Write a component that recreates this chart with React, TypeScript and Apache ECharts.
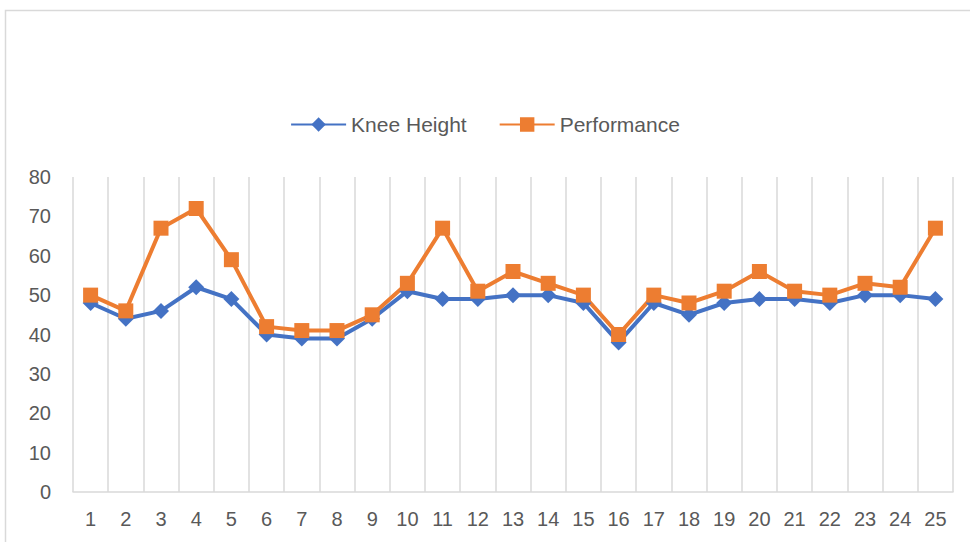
import React, { useEffect, useRef } from "react";
import * as echarts from "echarts";

const categories = ["1","2","3","4","5","6","7","8","9","10","11","12","13","14","15","16","17","18","19","20","21","22","23","24","25"];
const kneeHeight = [48,44,46,52,49,40,39,39,44,51,49,49,50,50,48,38,48,45,48,49,49,48,50,50,49];
const performance = [50,46,67,72,59,42,41,41,45,53,67,51,56,53,50,40,50,48,51,56,51,50,53,52,67];
const seriesNames = ["Knee Height", "Performance"];

export default function App() {
  const ref = useRef<HTMLDivElement>(null);
  useEffect(() => {
    document.body.style.margin = "0";
    const chart = echarts.init(ref.current!, null, { renderer: "svg" });
    const font = "'Liberation Sans', Arial, sans-serif";
    chart.setOption({
      animation: false,
      backgroundColor: "#ffffff",
      textStyle: { fontFamily: font },
      graphic: [
        {
          type: "rect",
          shape: { x: 5.5, y: 10.5, width: 1000, height: 600 },
          style: { fill: "none", stroke: "#d9d9d9", lineWidth: 1.5 },
          silent: true,
        },
      ],
      legend: {
        top: 109,
        left: "center",
        itemWidth: 55,
        itemHeight: 18,
        itemGap: 32,
        textStyle: { color: "#595959", fontSize: 21, fontFamily: font },
        data: seriesNames,
      },
      grid: { left: 73, right: 17, top: 177, bottom: 50, containLabel: false },
      xAxis: {
        type: "category",
        data: categories,
        boundaryGap: true,
        axisLine: { show: true, lineStyle: { color: "#d9d9d9", width: 1.5 } },
        axisTick: { show: false },
        splitLine: { show: true, lineStyle: { color: "#d9d9d9", width: 1.5 } },
        axisLabel: { color: "#595959", fontSize: 20, margin: 17, fontFamily: font, interval: 0 },
      },
      yAxis: {
        type: "value",
        min: 0,
        max: 80,
        interval: 10,
        axisLine: { show: false },
        axisTick: { show: false },
        splitLine: { show: false },
        axisLabel: { color: "#595959", fontSize: 20, margin: 22, fontFamily: font },
      },
      series: [
        {
          name: seriesNames[0],
          type: "line",
          data: kneeHeight,
          symbol: "diamond",
          symbolSize: 16,
          showAllSymbol: true,
          itemStyle: { color: "#4472C4" },
          lineStyle: { color: "#4472C4", width: 4 },
        },
        {
          name: seriesNames[1],
          type: "line",
          data: performance,
          symbol: "rect",
          symbolSize: 15,
          showAllSymbol: true,
          itemStyle: { color: "#ED7D31" },
          lineStyle: { color: "#ED7D31", width: 4 },
        },
      ],
    });
    return () => chart.dispose();
  }, []);
  return <div ref={ref} style={{ width: 970, height: 542 }} />;
}
